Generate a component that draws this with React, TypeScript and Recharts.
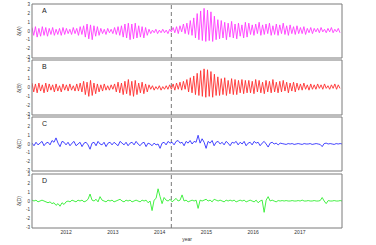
import React from 'react';
import { LineChart, Line, XAxis, YAxis, ReferenceLine } from 'recharts';

const START_YEAR = 2011.27;
const END_YEAR = 2017.9;
const WAVE_STEP = 0.0368;
const NOISE_STEP = 0.0428;
const EVENT_YEAR = 2014.25;

const years = [2012, 2013, 2014, 2015, 2016, 2017];
const yTicks = [-3, -2, -1, 0, 1, 2, 3];
const panelNames = ['A', 'B', 'C', 'D'];
const axisNames = ['δ(A)', 'δ(B)', 'δ(C)', 'δ(D)'];

// alternating crest / trough, roughly one pair per 27 days
const seriesA = [
  0.4, -0.5, 0.5, -0.7, 0.3, -0.6, 0.5, -0.5, 0.4, -0.6, 0.3, -0.4, 0.4, -0.5, 0.2, -0.4, 0.3, -0.5, 0.4, -0.4,
  0.3, -0.3, 0.2, -0.4, 0.4, -0.3, 0.3, -0.5, 0.5, -0.4,
  0.6, -0.7, 0.8, -0.9, 0.7, -1.0, 0.6, -0.6, 0.5, -0.5,
  0.3, -0.3, 0.2, -0.4, 0.3, -0.2, 0.2, -0.3, 0.4, -0.4,
  0.5, -0.5, 0.6, -0.7, 0.8, -0.8, 0.9, -1.0, 0.8, -0.9, 0.9, -0.8, 0.6, -0.7, 0.5, -0.8, 0.4, -0.5,
  0.2, -0.3, 0.1, -0.2, 0.2, -0.3, 0.1, -0.2, 0.2, -0.2, 0.1, -0.3, 0.2, -0.1,
  0.4, -0.2, 0.5, -0.3, 0.6, -0.1, 0.8, -0.3, 0.9, -0.4, 1.2, -0.5,
  1.5, -0.8, 2.0, -1.0, 2.3, -1.1, 2.6, -1.2, 2.4, -1.1, 2.2, -1.2, 1.7, -1.0,
  1.3, -0.9, 1.2, -0.8, 1.0, -1.0, 0.9, -0.7, 1.1, -0.8, 0.8, -0.9, 0.9, -0.6, 0.7, -0.8, 1.0, -0.7,
  0.9, -0.4, 0.7, -0.5, 0.8, -0.3, 1.0, -0.5, 0.7, -0.4, 0.8, -0.3, 0.9, -0.5, 0.6, -0.4, 0.8, -0.5, 0.7, -0.3,
  0.9, -0.4, 0.6, -0.5, 0.7, -0.3, 0.5, -0.4, 0.6, -0.3,
  0.4, -0.3, 0.5, -0.4, 0.3, -0.2, 0.4, -0.3, 0.3, -0.1,
  0.3, -0.2, 0.4, -0.1, 0.2, -0.2, 0.3, -0.1, 0.4, -0.2, 0.2, -0.1, 0.3, -0.2,
];

const seriesB = [
  0.5, -0.5, 0.4, -0.6, 0.5, -0.4, 0.3, -0.6, 0.5, -0.5, 0.4, -0.3, 0.3, -0.5, 0.4, -0.4, 0.2, -0.5, 0.4, -0.3,
  0.3, -0.4, 0.4, -0.3, 0.2, -0.4, 0.4, -0.4, 0.5, -0.5,
  0.7, -0.8, 0.6, -1.0, 0.8, -0.9, 0.5, -0.7, 0.4, -0.5,
  0.3, -0.4, 0.4, -0.3, 0.2, -0.3, 0.3, -0.2, 0.4, -0.5,
  0.6, -0.6, 0.5, -0.8, 0.7, -0.7, 0.9, -0.9, 0.7, -1.0, 0.8, -0.8, 0.5, -0.6, 0.6, -0.7, 0.4, -0.5,
  0.3, -0.2, 0.2, -0.3, 0.1, -0.2, 0.2, -0.3, 0.1, -0.2, 0.2, -0.2, 0.3, -0.2,
  0.4, -0.3, 0.5, -0.2, 0.6, -0.3, 0.7, -0.2, 0.9, -0.5, 1.1, -0.6,
  1.3, -0.8, 1.6, -0.9, 1.9, -1.0, 2.1, -1.1, 2.0, -1.0, 1.8, -1.1, 1.5, -0.9,
  1.2, -0.9, 1.0, -0.8, 1.1, -0.9, 0.8, -0.7, 1.0, -0.8, 0.9, -0.8, 0.8, -0.6, 0.9, -0.7, 0.8, -0.6,
  0.8, -0.6, 0.7, -0.7, 0.9, -0.5, 0.8, -0.6, 0.6, -0.7, 0.8, -0.5, 0.7, -0.6, 0.9, -0.5, 0.6, -0.6, 0.7, -0.5,
  0.8, -0.4, 0.6, -0.6, 0.5, -0.4, 0.6, -0.5, 0.5, -0.3,
  0.4, -0.3, 0.5, -0.2, 0.3, -0.3, 0.4, -0.2, 0.3, -0.2,
  0.4, -0.1, 0.3, -0.2, 0.4, -0.1, 0.2, -0.2, 0.3, -0.1, 0.4, -0.2, 0.3, -0.1,
];

const seriesC = [
  0.1, -0.2, 0.2, -0.1, 0.1, 0.3, -0.2, 0.1, 0.2, -0.1,
  0.4, 0.2, 0.7, 0.1, -0.3, 0.3, 0.2, -0.1, 0.2, -0.2,
  0.1, 0.3, -0.2, 0.0, 0.2, -0.3, 0.1, 0.2, -0.1, -0.6,
  0.1, 0.2, -0.2, 0.3, 0.0, -0.1, 0.2, -0.3, 0.1, 0.2,
  -0.1, 0.2, 0.0, -0.2, 0.3, 0.1, -0.1, 0.2, -0.2, 0.1,
  0.2, -0.1, 0.3, 0.0, -0.2, 0.1, 0.2, -0.3, 0.1, 0.0,
  -0.2, 0.1, -0.1, 0.0, -0.5, 0.1, 0.2, -0.1, 0.3, 0.1,
  0.2, -0.1, 0.3, 0.4, 0.1, 0.2, -0.2, 0.3, 0.1, 0.4,
  0.0, 0.3, 0.2, 1.0, 0.1, 0.6, 0.2, -0.5, 0.3, 0.1,
  0.4, -0.2, 0.2, 0.3, 0.0, 0.2, -0.1, 0.3, 0.1, -0.2,
  0.2, 0.1, 0.3, -0.1, 0.2, 0.0, 0.3, -0.2, 0.1, 0.2,
  -0.1, 0.3, 0.1, 0.2, -0.2, 0.1, 0.3, 0.0, -0.35, 0.1,
  0.2, 0.0, 0.1, -0.1, 0.1, 0.05, 0.0, -0.05, 0.05, 0.0,
  0.05, -0.05, 0.0, 0.05, 0.0, -0.05, 0.05, 0.0, 0.0, 0.05,
  -0.05, 0.0, 0.05, 0.0, -0.05, -0.3, 0.05, 0.1, 0.0, 0.05,
  0.0, -0.05, 0.05, 0.0, 0.05, 0.0,
];

const seriesD = [
  0.1, 0.0, 0.1, -0.1, 0.0, 0.1, 0.0, -0.1, -0.2, -0.1,
  -0.3, -0.2, -0.5, -0.3, -0.6, -0.2, -0.4, -0.1, 0.0, -0.1,
  0.1, 0.0, -0.1, 0.1, 0.0, 0.1, -0.1, 0.0, 0.2, 0.8,
  0.1, 0.0, 0.2, -0.1, 0.5, 0.1, 0.0, -0.1, 0.1, 0.0,
  0.1, -0.1, 0.0, 0.1, 0.2, 0.0, -0.1, 0.1, 0.0, 0.1,
  -0.1, 0.0, 0.1, 0.0, -0.1, 0.1, 0.0, 0.1, -0.2, 0.0,
  -1.1, 0.1, 0.3, 1.4, 0.5, -0.3, 0.4, 0.1, 0.0, 0.2,
  -0.1, 0.1, 0.3, 0.0, 0.1, 0.7, 0.0, 0.1, -0.1, 0.0,
  0.1, 0.0, 0.1, -0.85, 0.1, 0.0, 0.1, 0.2, 0.0, 0.1,
  -0.1, 0.2, 0.1, 0.0, 0.1, 0.0, -0.1, 0.1, 0.0, 0.1,
  0.0, 0.1, -0.1, 0.0, 0.1, 0.0, 0.1, -0.1, 0.0, 0.1,
  0.0, -0.1, 0.1, -0.2, 0.0, 0.1, -1.3, 0.1, 0.5, 0.0,
  0.1, 0.0, -0.1, 0.05, 0.0, 0.05, 0.0, 0.05, 0.0, 0.0,
  0.05, 0.0, 0.0, 0.05, 0.0, 0.1, 0.0, 0.0, 0.05, 0.0,
  0.0, 0.05, 0.0, 0.0, 0.05, 0.4, 0.0, -0.3, 0.05, 0.0,
  0.0, 0.05, 0.0, 0.0, 0.05, 0.0,
];

const FRAME = '#7a7a7a';
const FONT = 'Liberation Sans, Arial, sans-serif';
const PLOT_LEFT = 32;
const PLOT_RIGHT = 34;
const PAD = 4;

const minorX: number[] = [];
for (let y = 2011.5; y < END_YEAR; y += 0.25) minorX.push(y);
const minorY: number[] = [];
for (let v = -3; v <= 3; v += 0.25) minorY.push(v);
const halfY: number[] = [];
for (let v = -3; v <= 3; v += 0.5) halfY.push(v);

type PanelProps = {
  values: number[];
  step: number;
  color: string;
  top: number;
  height: number;
  name: string;
  axisName: string;
  showYears?: boolean;
};

const Panel = ({ values, step, color, top, height, name, axisName, showYears }: PanelProps) => {
  const data = values.map((v, i) => ({ t: START_YEAR + i * step, v }));
  const bottomPad = showYears ? 0 : PAD;
  const chartH = PAD + height + bottomPad + (showYears ? 12 : 0);
  const dom: [number, number] = [START_YEAR, END_YEAR];
  const ydom: [number, number] = [-3.1, 3.1];
  return (
    <div style={{ position: 'absolute', left: 0, top: top - PAD, width: 376, height: chartH, pointerEvents: 'none' }}>
      <LineChart width={376} height={chartH} data={data} margin={{ top: PAD, right: PLOT_RIGHT, bottom: bottomPad, left: 0 }}>
        {showYears && (
          <XAxis
            xAxisId="lbl"
            dataKey="t"
            type="number"
            domain={dom}
            allowDataOverflow
            ticks={years}
            interval={0}
            height={12}
            axisLine={false}
            tickLine={false}
            tickSize={1}
            tickMargin={1}
            tick={{ fontSize: 5, fill: '#333', fontFamily: FONT }}
          />
        )}
        <XAxis xAxisId="bm" dataKey="t" type="number" domain={dom} allowDataOverflow ticks={minorX} interval={0}
          mirror height={1} tick={false} tickSize={2} stroke={FRAME} />
        <XAxis xAxisId="tm" orientation="top" dataKey="t" type="number" domain={dom} allowDataOverflow ticks={minorX}
          interval={0} mirror height={1} tick={false} tickSize={2} stroke={FRAME} />
        <YAxis yAxisId="l" type="number" domain={ydom} allowDataOverflow ticks={yTicks} interval={0} width={PLOT_LEFT}
          tickLine={false} tickSize={1} tickMargin={1} stroke={FRAME}
          tick={{ fontSize: 4.5, fill: '#333', fontFamily: FONT }} />
        <YAxis yAxisId="lm" type="number" domain={ydom} allowDataOverflow ticks={halfY} interval={0} mirror width={1}
          tick={false} tickSize={3} axisLine={false} stroke={FRAME} />
        <YAxis yAxisId="r" orientation="right" type="number" domain={ydom} allowDataOverflow ticks={minorY} interval={0}
          mirror width={1} tick={false} tickSize={2} stroke={FRAME} />
        <ReferenceLine xAxisId="bm" yAxisId="l" x={EVENT_YEAR} stroke={FRAME} strokeDasharray="4 3" />
        <Line xAxisId="bm" yAxisId="l" dataKey="v" stroke={color} strokeWidth={0.9} dot={false} isAnimationActive={false} />
      </LineChart>
      <div style={{ position: 'absolute', left: 42, top: PAD + 3, fontSize: 7, fontFamily: FONT, color: '#222' }}>{name}</div>
      <div
        style={{
          position: 'absolute',
          left: 19,
          top: PAD + height / 2,
          fontSize: 5,
          fontFamily: FONT,
          color: '#333',
          transform: 'translate(-50%, -50%) rotate(-90deg)',
          whiteSpace: 'nowrap',
        }}
      >
        {axisName}
      </div>
    </div>
  );
};

const App = () => {
  return (
    <div style={{ position: 'absolute', left: 0, top: 0, width: 376, height: 245, background: '#fff' }}>
      <Panel values={seriesA} step={WAVE_STEP} color="#ff3cff" top={4} height={54} name={panelNames[0]} axisName={axisNames[0]} />
      <Panel values={seriesB} step={WAVE_STEP} color="#ff3030" top={60} height={55} name={panelNames[1]} axisName={axisNames[1]} />
      <Panel values={seriesC} step={NOISE_STEP} color="#3030ff" top={117} height={54} name={panelNames[2]} axisName={axisNames[2]} />
      <Panel values={seriesD} step={NOISE_STEP} color="#30ee30" top={174} height={54} name={panelNames[3]} axisName={axisNames[3]} showYears />
      <div style={{ position: 'absolute', left: 187, top: 236, fontSize: 5, fontFamily: FONT, color: '#333', transform: 'translateX(-50%)' }}>
        year
      </div>
    </div>
  );
};

export default App;
